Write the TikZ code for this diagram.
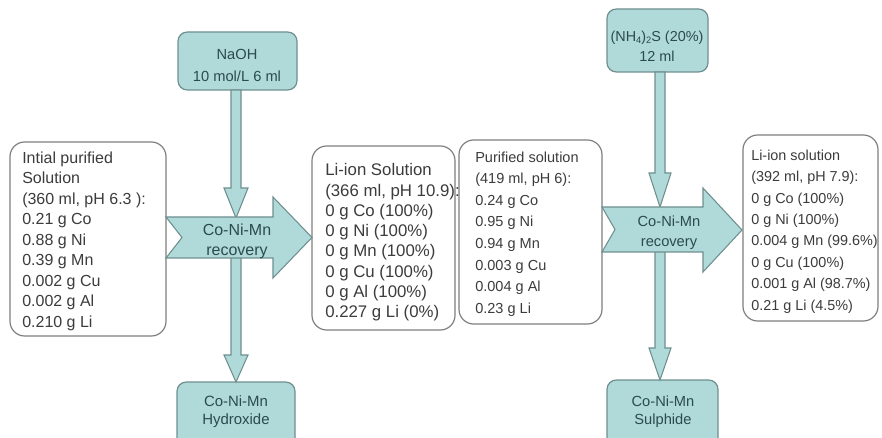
\documentclass[tikz,border=0pt]{standalone}
\usepackage{fontspec}
\setmainfont{Liberation Sans}
\usetikzlibrary{fit}
\definecolor{tealfill}{HTML}{B0DADA}
\definecolor{tealline}{HTML}{6F8F8F}
\definecolor{boxline}{HTML}{7F7F7F}
\definecolor{boxtext}{HTML}{3C3C3C}
\definecolor{tealtext}{HTML}{2B4B4D}
\begin{document}
\begin{tikzpicture}[x=0.75pt,y=-0.75pt,
  wbox/.style={draw=boxline, line width=0.9pt, rounded corners=11pt, fill=white, inner sep=0pt},
  tbox/.style={draw=tealline, line width=0.9pt, rounded corners=7pt, fill=tealfill, inner sep=0pt},
  blockarrow/.style={draw=tealline, line width=0.8pt, fill=tealfill, line join=miter},
  wtext/.style={inner sep=0pt, align=left, text=boxtext},
  ttext/.style={inner sep=0pt, align=center, text=tealtext}]
\useasboundingbox (0,0) rectangle (882,438);
\fill[white] (0,0) rectangle (882,438);
\clip (0,0) rectangle (882,438);

% solution boxes
\node[wbox, fit={(10,142) (166,336)}] (b1) {};
\node[wbox, fit={(312,146) (455,330)}] (b2) {};
\node[wbox, fit={(459,140) (602,324)}] (b3) {};
\node[wbox, fit={(743,135) (878,321)}] (b4) {};

% reagent and product boxes
\node[tbox, fit={(178,32) (297,90)}] (naoh) {};
\node[tbox, fit={(607,9) (708,72)}] (nhs) {};
\node[tbox, fit={(177,382) (295,452)}] (hyd) {};
\node[tbox, fit={(607,380) (718,452)}] (sul) {};

% reagent feed and product discharge (block arrows)
\path[blockarrow] (231,90) -- (231,188) -- (224,188) -- (236,218) -- (248,188) -- (241,188) -- (241,90) -- cycle;
\path[blockarrow] (231,250) -- (231,355) -- (224,355) -- (236,382) -- (248,355) -- (241,355) -- (241,250) -- cycle;
\path[blockarrow] (655,72) -- (655,173) -- (649,173) -- (660,207) -- (671,173) -- (665,173) -- (665,72) -- cycle;
\path[blockarrow] (655,245) -- (655,348) -- (649,348) -- (660,380) -- (671,348) -- (665,348) -- (665,245) -- cycle;

% recovery steps (notched block arrows)
\path[blockarrow] (166,217) -- (273,217) -- (273,197) -- (312,237.5) -- (273,278) -- (273,258) -- (166,258) -- (182,237.5) -- cycle;
\path[blockarrow] (602,207) -- (703,207) -- (703,188) -- (742,230) -- (703,272) -- (703,252) -- (602,252) -- (615,229.5) -- cycle;

% box contents
\node[wtext, anchor=west, font=\fontsize{12pt}{15.4pt}\selectfont] (t1) at (22,241)
  {Intial purified\\Solution\\(360 ml, pH 6.3 ):\\0.21 g Co\\0.88 g Ni\\0.39 g Mn\\0.002 g Cu\\0.002 g Al\\0.210 g Li};
\node[wtext, anchor=west, font=\fontsize{12.6pt}{15.2pt}\selectfont] (t2) at (325,242.5)
  {Li-ion Solution\\(366 ml, pH 10.9):\\0 g Co (100\%)\\0 g Ni (100\%)\\0 g Mn (100\%)\\0 g Cu (100\%)\\0 g Al (100\%)\\0.227 g Li (0\%)};
\node[wtext, anchor=west, font=\fontsize{10.9pt}{16.2pt}\selectfont] (t3) at (475,234)
  {Purified solution\\(419 ml, pH 6):\\0.24 g Co\\0.95 g Ni\\0.94 g Mn\\0.003 g Cu\\0.004 g Al\\0.23 g Li};
\node[wtext, anchor=west, font=\fontsize{10.8pt}{16.05pt}\selectfont] (t4) at (751,231.5)
  {Li-ion solution\\(392 ml, pH 7.9):\\0 g Co (100\%)\\0 g Ni (100\%)\\0.004 g Mn (99.6\%)\\0 g Cu (100\%)\\0.001 g Al (98.7\%)\\0.21 g Li (4.5\%)};

\node[ttext, font=\fontsize{11pt}{16.5pt}\selectfont] (tn) at (237,65)
  {NaOH\\10 mol/L 6 ml};
\node[ttext, font=\fontsize{10.8pt}{15pt}\selectfont] (ts) at (657,46)
  {(NH\raisebox{-0.35ex}{\fontsize{7pt}{8pt}\selectfont 4})\raisebox{-0.35ex}{\fontsize{7pt}{8pt}\selectfont 2}S (20\%)\\12 ml};
\node[ttext, font=\fontsize{11.2pt}{13.5pt}\selectfont] (th) at (236,412)
  {Co-Ni-Mn\\Hydroxide};
\node[ttext, font=\fontsize{11pt}{13.5pt}\selectfont] (tu) at (663,412)
  {Co-Ni-Mn\\Sulphide};
\node[ttext, font=\fontsize{12pt}{15pt}\selectfont] (r1) at (237,241)
  {Co-Ni-Mn\\recovery};
\node[ttext, font=\fontsize{11pt}{15pt}\selectfont] (r2) at (669,233)
  {Co-Ni-Mn\\recovery};
\end{tikzpicture}
\end{document}
